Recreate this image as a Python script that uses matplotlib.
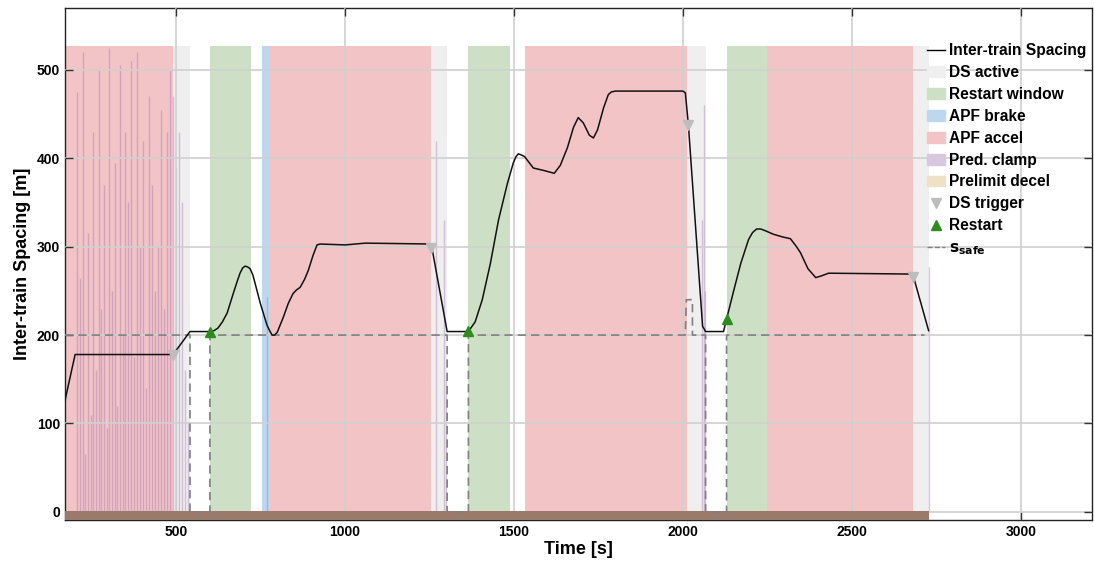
import numpy as np
import matplotlib
matplotlib.use("Agg")
import matplotlib.pyplot as plt
from matplotlib.patches import Patch
from matplotlib.lines import Line2D

plt.rcParams['font.family'] = ['Liberation Sans', 'DejaVu Sans']
plt.rcParams['font.weight'] = 'bold'

# ---------------- data ----------------
t_space = [171, 201, 491, 541, 600, 612, 624, 637, 651, 669, 680, 689, 697, 704, 712, 719, 727,
           734, 749, 769, 778, 784, 791, 799, 817, 832, 846, 856, 867, 880, 891, 905, 917, 926,
           1000, 1060, 1255, 1302, 1365, 1385, 1406, 1430, 1454, 1480, 1498, 1506, 1513, 1520,
           1531, 1557, 1590, 1619, 1637, 1658, 1676, 1690, 1705, 1723, 1735, 1747, 1765, 1779,
           1788, 1800, 2000, 2007, 2016, 2058, 2067, 2120, 2129, 2150, 2171, 2194, 2206, 2218,
           2230, 2244, 2268, 2295, 2318, 2336, 2348, 2370, 2393, 2410, 2431, 2680, 2727]
spacing = [126, 178, 178, 204, 204, 205, 208, 215, 225, 247, 260, 270, 276, 278, 277, 275, 268,
           258, 236, 211, 204, 200, 200, 203, 220, 236, 247, 251, 254, 263, 273, 290, 302, 303,
           302, 304, 303, 204, 204, 215, 240, 281, 330, 371, 395, 402, 405, 404,
           402, 389, 386, 383, 392, 412, 435, 446, 440, 426, 423, 432, 457, 472,
           475, 476, 476, 474, 438, 210, 204, 204, 218, 250, 281, 308, 316, 320,
           320, 318, 314, 311, 309, 300, 293, 275, 265, 267, 270, 269, 205]

t_safe = [171, 541, 541, 600, 600, 1302, 1302, 1365, 1365, 2007, 2010, 2028, 2028, 2067, 2067,
          2129, 2129, 2715]
s_safe = [200, 200, 0, 0, 200, 200, 0, 0, 200, 200, 240, 240, 200, 200, 0, 0, 200, 200]

ds_active = [(491, 541), (1255, 1302), (2013, 2067), (2680, 2727)]
restart_win = [(600, 722), (1365, 1489), (2129, 2250)]
apf_brake = [(754, 778)]
apf_accel = [(171, 491), (778, 1255), (1531, 2013), (2250, 2680)]

ds_trig_t = [491, 1255, 2016, 2680]
ds_trig_s = [178, 299, 438, 266]
restart_t = [600, 1365, 2129]
restart_s = [204, 205, 218]

clamp_t = [206, 215, 224, 230, 239, 248, 254, 263, 272, 277, 286, 295, 302, 310, 319, 325, 334,
           343, 349, 358, 367, 375, 384, 393, 402, 411, 420, 429, 438, 447, 456, 465, 473, 482,
           491, 500, 509, 518, 527, 535, 1268, 1293, 1299, 2055, 2062, 2066, 2727, 770]
clamp_h = [475, 265, 520, 65, 315, 110, 430, 160, 500, 230, 370, 95, 525, 250, 395, 120, 505,
           200, 430, 350, 510, 175, 520, 300, 420, 140, 470, 370, 250, 300, 455, 230, 430, 500,
           470, 390, 430, 350, 160, 100, 420, 330, 150, 330, 460, 250, 277, 243]

# ---------------- figure ----------------
fig = plt.figure(figsize=(10.94, 5.70), dpi=100)
ax = fig.add_axes([0.0594, 0.088, 0.9386, 0.898])

band_top = 527
def bands(spans, color):
    for a, b in spans:
        ax.fill_between([a, b], 0, band_top, color=color, lw=0, zorder=1)

bands(apf_accel, '#f2c4c6')
bands(ds_active, '#efefef')
bands(restart_win, '#cddfc4')
bands(apf_brake, '#bdd7ee')

ax.vlines(clamp_t, 0, clamp_h, color='#9664aa', alpha=0.35, lw=1.0, zorder=2)

# bottom strip
ax.fill_between([t_space[0], t_space[-1]], -9, 1, color='#9a7b6b', lw=0, zorder=3)

ax.plot(t_safe, s_safe, color='#808080', ls=(0, (5, 3)), lw=1.2, zorder=4)
ax.plot(t_space, spacing, color='#111111', lw=1.1, zorder=5)
ax.plot(ds_trig_t, ds_trig_s, 'v', color='#bdbdbd', ms=7, zorder=6)
ax.plot(restart_t, restart_s, '^', color='#2e8b1e', ms=7, zorder=6)

ax.set_xlim(171, 3210)
ax.set_ylim(-9, 570)
ax.set_xticks([500, 1000, 1500, 2000, 2500, 3000])
ax.set_yticks([0, 100, 200, 300, 400, 500])
ax.grid(True, color='#d0d0d0', lw=1.2, zorder=0)
ax.set_axisbelow(False)
ax.tick_params(direction='in', length=6, width=1, labelsize=10, color='#333333',
               top=True, right=True)
ax.set_xlabel('Time [s]', fontsize=13, fontweight='bold', labelpad=2)
ax.set_ylabel('Inter-train Spacing [m]', fontsize=13, fontweight='bold', labelpad=4)
for sp in ax.spines.values():
    sp.set_linewidth(1.0)
    sp.set_color('#222222')

handles = [
    Line2D([], [], color='black', lw=1),
    Patch(color='#efefef'),
    Patch(color='#cddfc4'),
    Patch(color='#bdd7ee'),
    Patch(color='#f2c4c6'),
    Patch(color='#d7c8de'),
    Patch(color='#eee1c8'),
    Line2D([], [], ls='', marker='v', color='#bdbdbd', ms=7),
    Line2D([], [], ls='', marker='^', color='#2e8b1e', ms=7),
    Line2D([], [], color='#808080', ls='--', lw=1),
]
labels = ['Inter-train Spacing', 'DS active', 'Restart window', 'APF brake', 'APF accel',
          'Pred. clamp', 'Prelimit decel', 'DS trigger', 'Restart', r'$\mathbf{s_{safe}}$']
ax.legend(handles, labels, loc='upper right', bbox_to_anchor=(1.004, 0.949), frameon=False,
          handlelength=1.2, handletextpad=0.25, labelspacing=0.44, borderaxespad=0.2,
          prop={'weight': 'bold', 'size': 11.2})

fig.savefig('out.png', dpi=100)
